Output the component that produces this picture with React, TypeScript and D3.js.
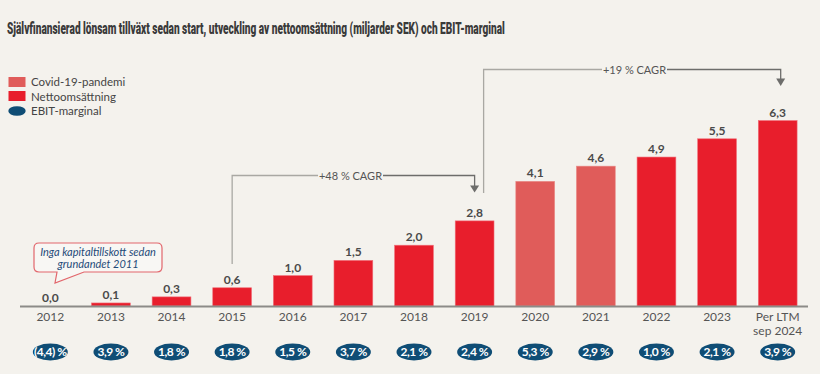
import React, { useEffect, useRef, useState } from "react";
import * as d3 from "d3";

const categories = ["2012","2013","2014","2015","2016","2017","2018","2019","2020","2021","2022","2023","Per LTM\nsep 2024"];
const revenue = [0.0, 0.1, 0.3, 0.6, 1.0, 1.5, 2.0, 2.8, 4.1, 4.6, 4.9, 5.5, 6.1];
const revenueLabels = ["0,0","0,1","0,3","0,6","1,0","1,5","2,0","2,8","4,1","4,6","4,9","5,5","6,3"];
const covidYears = ["2020","2021"];
const ebitLabels = ["(4,4) %","3,9 %","1,8 %","1,8 %","1,5 %","3,7 %","2,1 %","2,4 %","5,3 %","2,9 %","1,0 %","2,1 %","3,9 %"];
const legendItems = ["Covid-19-pandemi","Nettoomsättning","EBIT-marginal"];
const title = "Självfinansierad lönsam tillväxt sedan start, utveckling av nettoomsättning (miljarder SEK) och EBIT-marginal";

const W = 820, H = 374;
const BG = "#f4f2ed";
const RED = "#e81e2c";
const COVID = "#e05c5a";
const BLUE = "#0f4d75";
const GRAY_TXT = "#4a4a4a";
const FONT = "Lato, 'Open Sans', sans-serif";
const TITLE_W = 498;

export default function App() {
  const titleRef = useRef<SVGTextElement>(null);
  const [titleScale, setTitleScale] = useState(0.62);
  useEffect(() => {
    if (titleRef.current) {
      const w = titleRef.current.getComputedTextLength();
      if (w > 0) setTitleScale(TITLE_W / w);
    }
  }, []);

  const x = d3.scaleBand<string>().domain(categories).range([20, 808]).paddingInner(0.36).paddingOuter(0.18);
  const baseY = 306;
  const y = d3.scaleLinear().domain([0, 1]).range([baseY, baseY - 30.4]);
  const cx = (i: number) => (x(categories[i]) as number) + x.bandwidth() / 2;

  const i2015 = 3, i2019 = 7, iLast = 12;
  const lineCol = "#a9a8a3";
  const arrowCol = "#6d6d6b";

  return (
    <svg width={W} height={H} style={{ position: "absolute", left: 0, top: 0, background: BG }} fontFamily={FONT}>
      <rect x={0} y={0} width={W} height={H} fill={BG} />
      <g transform={`translate(7,33.5) scale(${titleScale},1)`}>
        <text ref={titleRef} x={0} y={0} fontFamily="Roboto, sans-serif" fontWeight={900} fontSize={16.5} fill="#3a3a3a">
          {title}
        </text>
      </g>

      {/* legend */}
      <rect x={8.5} y={77} width={17} height={10} fill={COVID} />
      <rect x={8.5} y={91} width={17} height={10} fill={RED} />
      <ellipse cx={17} cy={111} rx={8.7} ry={4.8} fill={BLUE} />
      {legendItems.map((t, i) => (
        <text key={t} x={31} y={86 + i * 14.5} fontSize={11.5} fill="#444">{t}</text>
      ))}

      {/* bars */}
      {categories.map((c, i) => {
        const yy = y(revenue[i]);
        const h = baseY - yy;
        const isCovid = covidYears.includes(c);
        return (
          <g key={c}>
            {h > 0 && (
              <rect x={x(c)} y={yy} width={x.bandwidth()} height={h} fill={isCovid ? COVID : RED} stroke={isCovid ? "#ea8a86" : "#f0707a"} strokeWidth={0.6} />
            )}
            <text x={cx(i)} y={yy - 4} textAnchor="middle" fontSize={12} fontWeight={700} fill={GRAY_TXT}>{revenueLabels[i]}</text>
          </g>
        );
      })}

      {/* axis line */}
      <line x1={20} x2={808} y1={baseY + 0.5} y2={baseY + 0.5} stroke="#8c8b88" strokeWidth={2} />

      {/* category labels */}
      {categories.map((c, i) => {
        const lines = c.split("\n");
        return (
          <text key={"l" + c} x={cx(i)} y={321} textAnchor="middle" fontSize={12} fill="#555">
            {lines.map((l, j) => (
              <tspan key={j} x={cx(i)} dy={j === 0 ? 0 : 13.5}>{l}</tspan>
            ))}
          </text>
        );
      })}

      {/* EBIT ellipses */}
      {ebitLabels.map((t, i) => (
        <g key={"e" + i}>
          <ellipse cx={cx(i)} cy={352} rx={17.5} ry={8.5} fill={BLUE} />
          <text x={cx(i)} y={356} textAnchor="middle" fontSize={12} fontWeight={700} fill="#fff" letterSpacing={-0.5}>{t}</text>
        </g>
      ))}

      {/* callout */}
      <path d={`M39,243 H157 Q162,243 162,248 V267 Q162,272 157,272 H84 L55,283 L57,272 H39 Q34,272 34,267 V248 Q34,243 39,243 Z`} fill="#f8f7f4" stroke="#e2666c" strokeWidth={1.2} />
      <text x={98} y={256} textAnchor="middle" fontSize={11} fontStyle="italic" fill="#1f4a78">Inga kapitaltillskott sedan</text>
      <text x={98} y={268} textAnchor="middle" fontSize={11} fontStyle="italic" fill="#1f4a78">grundandet 2011</text>

      {/* +48% CAGR bracket */}
      <path d={`M${cx(i2015)},264 V175.5 H318`} fill="none" stroke={lineCol} strokeWidth={1.3} />
      <path d={`M383,175.5 H${cx(i2019)} V186`} fill="none" stroke={arrowCol} strokeWidth={1.3} />
      <path d={`M${cx(i2019) - 4.5},185.5 L${cx(i2019) + 4.5},185.5 L${cx(i2019)},192.5 Z`} fill={arrowCol} />
      <text x={350.5} y={179.5} textAnchor="middle" fontSize={11} fill="#555">+48 % CAGR</text>

      {/* +19% CAGR bracket */}
      <path d={`M${cx(i2019) + 9},193 V69.5 H602`} fill="none" stroke={lineCol} strokeWidth={1.3} />
      <path d={`M667,69.5 H${cx(iLast) + 3} V79`} fill="none" stroke={arrowCol} strokeWidth={1.3} />
      <path d={`M${cx(iLast) + 3 - 4.5},78.5 L${cx(iLast) + 3 + 4.5},78.5 L${cx(iLast) + 3},86 Z`} fill={arrowCol} />
      <text x={634.5} y={73.5} textAnchor="middle" fontSize={11} fill="#555">+19 % CAGR</text>
    </svg>
  );
}
